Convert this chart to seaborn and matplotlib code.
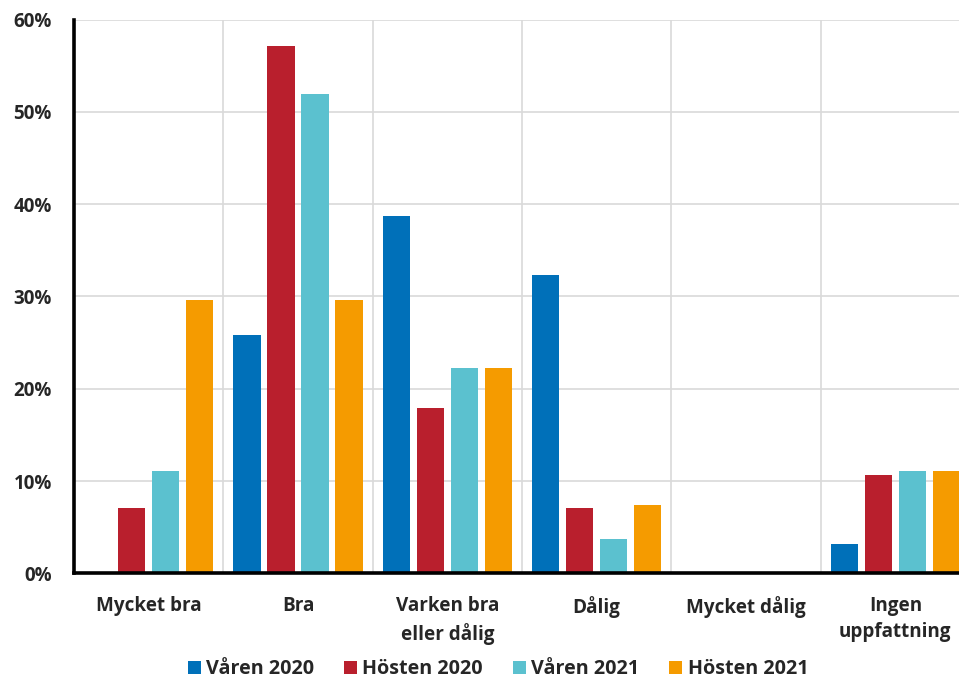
import matplotlib
matplotlib.use("Agg")
import matplotlib.pyplot as plt
import matplotlib.ticker as mticker
import numpy as np
import pandas as pd
import seaborn as sns

categories = ["Mycket bra", "Bra", "Varken bra\neller dålig", "Dålig", "Mycket dålig", "Ingen\nuppfattning"]
periods = ["Våren 2020", "Hösten 2020", "Våren 2021", "Hösten 2021"]
varen_2020 = [0.0, 25.8, 38.7, 32.3, 0.0, 3.2]
hosten_2020 = [7.1, 57.1, 17.9, 7.1, 0.0, 10.7]
varen_2021 = [11.1, 51.9, 22.2, 3.7, 0.0, 11.1]
hosten_2021 = [29.6, 29.6, 22.2, 7.4, 0.0, 11.1]
y_ticks = [0, 10, 20, 30, 40, 50, 60]

colors = ["#0070B9", "#B91F2D", "#5BC1CF", "#F59B00"]

df = pd.DataFrame({
    "kategori": categories * 4,
    "period": np.repeat(periods, len(categories)),
    "andel": varen_2020 + hosten_2020 + varen_2021 + hosten_2021,
})

sns.set_theme(style="white")
plt.rcParams["font.family"] = ["Open Sans", "DejaVu Sans"]
plt.rcParams["font.weight"] = "bold"

fig = plt.figure(figsize=(9.59, 6.79), dpi=100)
ax = fig.add_axes([74 / 959, 1 - 573.3 / 679, 896 / 959, 553.6 / 679])

sns.barplot(data=df, x="kategori", y="andel", hue="period", order=categories,
            hue_order=periods, palette=colors, width=0.91, gap=0.2,
            linewidth=0, saturation=1, ax=ax, legend=True)

ax.set_xlim(-0.5, len(categories) - 0.5)
ax.set_ylim(0, 60)
ax.set_yticks(y_ticks)
ax.yaxis.set_major_formatter(mticker.FuncFormatter(lambda v, _: f"{v:.0f}%"))
ax.set_xlabel("")
ax.set_ylabel("")

# category boundaries carry the vertical grid and the small x ticks
bounds = np.arange(len(categories) + 1) - 0.5
ax.set_xticks(bounds, minor=True)
ax.tick_params(axis="x", which="major", length=0, pad=16, labelsize=13.6)
ax.tick_params(axis="x", which="minor", direction="in", length=4.5, width=2.5, color="black")
ax.tick_params(axis="y", which="major", direction="in", length=5, width=2.5, color="black",
               pad=16, labelsize=13.5)
for lab in ax.get_xticklabels():
    lab.set_linespacing(1.45)
    lab.set_fontweight("bold")
for lab in ax.get_yticklabels():
    lab.set_fontweight("bold")

ax.grid(True, axis="y", which="major", color="#D9D9D9", linewidth=1.2)
ax.grid(True, axis="x", which="minor", color="#D9D9D9", linewidth=1.2)
ax.set_axisbelow(True)

for side in ["top", "right"]:
    ax.spines[side].set_visible(False)
for side in ["left", "bottom"]:
    ax.spines[side].set_color("black")
    ax.spines[side].set_linewidth(2.6)

handles, labels = ax.get_legend_handles_labels()
ax.get_legend().remove()
fig.legend(handles, labels, loc="center", bbox_to_anchor=(498 / 959, 1 - 669 / 679),
           ncol=4, frameon=False, handlelength=0.645, handleheight=0.645,
           handletextpad=0.28, columnspacing=1.52, prop={"weight": "bold", "size": 14.2})

fig.savefig("out.png", dpi=100)
